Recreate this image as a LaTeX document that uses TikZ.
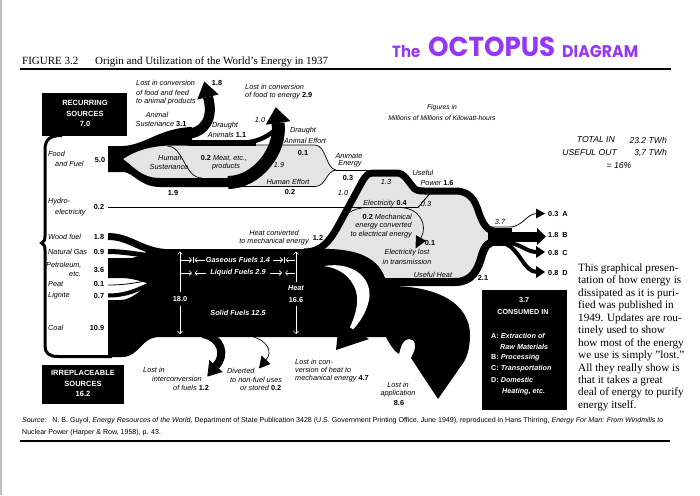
\documentclass[tikz,border=0pt]{standalone}
\usepackage{fontspec}
\usepackage{graphicx}
\setmainfont{Liberation Serif}
\newfontfamily\lsans{Liberation Sans}
\newfontfamily\pop{Poppins}
\usetikzlibrary{arrows.meta}
\definecolor{octo}{RGB}{150,55,245}
\definecolor{lgrey}{RGB}{228,228,228}
\newcommand\numb[1]{{\upshape\bfseries #1}}
\begin{document}
\begin{tikzpicture}[x=1pt,y=-1pt,
 lb/.style={font=\lsans\itshape\fontsize{7.3}{8.8}\selectfont, inner sep=0pt},
 lbn/.style={font=\lsans\bfseries\fontsize{7.3}{8.8}\selectfont, inner sep=0pt},
 wl/.style={font=\lsans\bfseries\itshape\fontsize{7.3}{8.8}\selectfont, text=white, inner sep=0pt},
 wn/.style={font=\lsans\bfseries\fontsize{7.3}{8.8}\selectfont, text=white, inner sep=0pt},
 bx/.style={font=\lsans\bfseries\fontsize{7.5}{9}\selectfont, text=white, inner sep=0pt},
 cb/.style={font=\lsans\bfseries\fontsize{7.2}{9}\selectfont, text=white, inner sep=0pt, anchor=west},
 tot/.style={font=\lsans\itshape\fontsize{8.6}{10}\selectfont, inner sep=0pt},
 para/.style={font=\fontsize{11.2}{12}\selectfont, inner sep=0pt, anchor=base west},
 thinl/.style={line width=0.7pt},
 warr/.style={white, line width=0.6pt, -{Straight Barb[length=2.5pt,width=5pt]}},
]
\useasboundingbox (0,0) rectangle (700,495);
\fill[white] (0,0) rectangle (700,495);
\draw[black!25, line width=1.5pt] (1,0) -- (1,495);

% ---------- header ----------
\node[anchor=base west, inner sep=0, font=\fontsize{11}{13}\selectfont] (fig) at (22,64) {FIGURE 3.2};
\node[anchor=base west, inner sep=0, font=\fontsize{11}{13}\selectfont] (ttl) at (95,64) {Origin and Utilization of the World's Energy in 1937};
\draw[line width=1.2pt] (20,69) -- (671,69);
\node[anchor=base west, inner sep=0, text=octo] (the) at (392,57) {\resizebox{28pt}{12pt}{\pop\bfseries The}};
\node[anchor=base west, inner sep=0, text=octo] (oct) at (428,57) {\resizebox{127pt}{19.5pt}{\pop\bfseries OCTOPUS}};
\node[anchor=base west, inner sep=0, text=octo] (dia) at (562,57) {\resizebox{76pt}{12pt}{\pop\bfseries DIAGRAM}};

\node[lb, font=\lsans\itshape\fontsize{6.8}{8}\selectfont] (fg1) at (442,108) {Figures in};
\node[lb, font=\lsans\itshape\fontsize{6.8}{8}\selectfont] (fg2) at (442,118) {Millions of Millions of Kilowatt-hours};

\node[tot, anchor=east] (ti1) at (615,140) {TOTAL IN};
\node[tot, anchor=east] (ti2) at (667,140) {23.2 TWh};
\node[tot, anchor=east] (uo1) at (617,153) {USEFUL OUT};
\node[tot, anchor=east] (uo2) at (667,153) {3,7 TWh};
\node[tot] (pct) at (619,165.5) {= 16\%};

% ---------- grey regions ----------
\fill[lgrey] (122,159.5) .. controls (135,152) and (145,147) .. (165,146) -- (315,145) .. controls (326,145) and (326,169) .. (336,170) .. controls (326,171) and (326,186.5) .. (315,186.5) -- (250,186.5) -- (250,178) -- (160,178) .. controls (140,178) and (132,168) .. (122,161) -- cycle;
\fill[lgrey] (304,252) .. controls (322,252) and (330,240) .. (337,228) -- (362,182) .. controls (366,175) and (368,173) .. (374,173) -- (396,173) .. controls (401,173) and (403,175) .. (406,178) -- (413,187) .. controls (415,190) and (418,191) .. (424,191) -- (455,191) .. controls (470,191) and (475,200) .. (479,213) .. controls (483,224) and (487,231.5) .. (497,231.5) -- (497,241.5) .. controls (488,241.5) and (485,246) .. (482,255) .. controls (478,270) and (472,282) .. (455,282) -- (370,282) -- cycle;

% ---------- left frame and boxes ----------
\draw[line width=3pt] (62,135.5) .. controls (50,135.5) and (45,139) .. (45,150) -- (45,236) .. controls (45,240) and (44,242) .. (41.5,243) .. controls (44,244) and (45,246) .. (45,250) -- (45,346) .. controls (45,353) and (49,356.5) .. (58,356.5) -- (112,356.5);
\fill (42,93) rectangle (127,136);
\node[bx] (rs1) at (85,103) {RECURRING};
\node[bx] (rs2) at (85,113.5) {SOURCES};
\node[bx] (rs3) at (85,124) {7.0};
\fill (42,365) rectangle (124,404);
\node[bx] (ir1) at (83,373) {IRREPLACEABLE};
\node[bx] (ir2) at (83,383.5) {SOURCES};
\node[bx] (ir3) at (83,394) {16.2};

% ---------- food flows ----------
\fill (108,146) rectangle (123,172);
\fill (108,146) -- (123,146) .. controls (145,145) and (160,128) .. (192,127) -- (192,145.5) -- (170,145.5) .. controls (150,146) and (135,151) .. (123,159) -- (108,159) -- cycle;
\draw[line width=10pt] (186,134) .. controls (205,133) and (214,118) .. (208,97);
\fill (218.7,94.5) -- (204.3,81.5) -- (197.3,99.5) -- cycle;
\draw[line width=6pt] (188,142.5) -- (256,142.5);
\fill (108,159) -- (123,159) .. controls (135,168) and (142,178) .. (160,178) -- (245,178) -- (245,187) -- (160,187) .. controls (140,187) and (133,172) .. (123,172) -- (108,172) -- cycle;
\draw[line width=4.5pt] (244,142.5) .. controls (256,142) and (265,138) .. (274,131);
\draw[line width=13pt] (228,182.5) .. controls (257,182.5) and (282,150) .. (278,123);
\fill (290.4,121.2) -- (275.8,107.2) -- (265.6,124.8) -- cycle;
\draw[thinl] (250,145) -- (315,145) .. controls (326,145) and (326,169) .. (336,170);
\draw[thinl] (245,186.5) -- (315,186.5) .. controls (326,186.5) and (326,171) .. (336,170);
\draw[thinl] (336,170) -- (368,170);
\draw[thinl] (167,146) .. controls (184,146) and (184,178) .. (202,178);

% ---------- hydro / electricity ----------
\draw[line width=0.9pt] (108,207.5) -- (418,207.5) -- (432,191);

% ---------- fossil flows ----------
\draw[line width=7pt] (108,236.5) .. controls (130,236.5) and (140,250.5) .. (165,252.5);
\draw[line width=5pt] (108,251.5) .. controls (125,251.5) and (140,255) .. (160,257);
\fill (158,249) -- (318,249) .. controls (352,248) and (377,255) .. (385,278) -- (390,286) .. controls (440,286) and (470,305) .. (470,335) .. controls (470,350) and (466,360) .. (461,366) -- (438,399) -- (411,358) .. controls (418,346) and (415,339) .. (409,339) .. controls (403,339) and (401,346) .. (399,354) .. controls (395,352) and (390,345) .. (386,337) -- (160,337) .. controls (140,337) and (140,357) .. (122,357) -- (108,357) -- (108,300) -- (120,300) .. controls (132,300) and (140,290) .. (150,284) .. controls (140,281) and (132,278) .. (120,278) -- (108,278) -- (108,258) -- (130,258) .. controls (140,258) and (145,250) .. (158,249) -- cycle;
\draw[line width=0.8pt] (108,285) .. controls (125,285) and (135,283) .. (150,280);
\draw[line width=4pt] (108,295.5) .. controls (126,295.5) and (138,290) .. (152,283);
% heat converted band + useful power
\draw[line width=7pt] (304,252) .. controls (322,252) and (330,240) .. (337,228) -- (362,182) .. controls (366,175) and (368,173) .. (374,173) -- (396,173) .. controls (401,173) and (403,175) .. (406,178) -- (413,187) .. controls (415,190) and (418,191) .. (424,191) -- (455,191) .. controls (470,191) and (475,200) .. (479,213) .. controls (483,224) and (487,231.5) .. (497,231.5);
% useful heat
\draw[line width=8pt] (372,282) -- (455,282) .. controls (472,282) and (478,270) .. (482,255) .. controls (485,246) and (488,241.5) .. (497,241.5);
\fill (488,227.5) rectangle (512,245.5);
% crescent of 4.7 loop
\fill[white] (324,266) .. controls (355,261) and (373,280) .. (369,300) .. controls (366,315) and (356,328) .. (345,337) .. controls (353,322) and (360,306) .. (356,291) .. controls (351,276) and (339,268) .. (324,266) -- cycle;
\fill (339,321) -- (336,350) -- (369,339) -- cycle;
% interconversion 1.2
\draw[line width=8pt] (203,334) .. controls (222,338) and (226,355) .. (216,366);
\fill (222.7,372) -- (207.3,376.6) -- (209.3,360) -- cycle;
% diverted 0.2
\draw[thinl] (250,336) .. controls (268,340) and (273,352) .. (266,360);
\fill (270.5,364) -- (259,368.5) -- (261.5,355.5) -- cycle;
% mechanical -> electrical and transmission loss
\draw[thinl] (336,231) .. controls (342,215) and (352,207.5) .. (368,207.5);
\draw[thinl] (400,207.5) .. controls (420,208) and (428,225) .. (421,238);
\fill (426,240.8) -- (415.5,248.5) -- (416,235.2) -- cycle;

% ---------- outputs A-D ----------
\draw[line width=0.8pt] (486,227) -- (510,227) .. controls (522,227) and (527,213.5) .. (537,213.5);
\fill (536,208.5) -- (545,213.5) -- (536,218.5) -- cycle;
\draw[line width=10pt] (505,236.5) -- (538,236.5);
\fill (537,228) -- (546,236.5) -- (537,245) -- cycle;
\draw[line width=4pt] (508,243) .. controls (522,244) and (526,252) .. (537,252);
\fill (536,246) -- (545,252) -- (536,258) -- cycle;
\draw[line width=4pt] (506,244) .. controls (520,250) and (524,272) .. (537,272);
\fill (536,266) -- (545,272) -- (536,278) -- cycle;
\node[lbn, anchor=west] (oa) at (548,213.5) {0.3\ \ A};
\node[lbn, anchor=west] (ob) at (548,234.5) {1.8\ \ B};
\node[lbn, anchor=west] (oc) at (548,252.5) {0.8\ \ C};
\node[lbn, anchor=west] (od) at (548,272.5) {0.8\ \ D};

% ---------- white arrows in fossil body ----------
\draw[warr] (180,292) -- (180,251.5);
\draw[warr] (180,305.5) -- (180,334);
\draw[warr] (296,282) -- (296,251.5);
\draw[warr] (296,306) -- (296,334);
\draw[warr] (181,260) -- (192,260);
\draw[warr] (205,260) -- (194.5,260);
\draw[white, line width=0.6pt] (193.2,257) -- (193.2,263);
\draw[warr] (273,260) -- (283,260);
\draw[warr] (295,260) -- (285.5,260);
\draw[white, line width=0.6pt] (284.2,257) -- (284.2,263);
\draw[warr] (181,273) -- (192,273);
\draw[warr] (206,273) -- (194.5,273);
\draw[warr] (270,273) -- (282,273);
\draw[warr] (295,273) -- (285,273);
\node[wl] (gas) at (238,260) {Gaseous Fuels 1.4};
\node[wl] (liq) at (238,273) {Liquid Fuels 2.9};
\node[wn] (e18) at (180,299) {18.0};
\node[wl] (heat) at (296,288.5) {Heat};
\node[wn] (h166) at (296,299.5) {16.6};
\node[wl] (sol) at (238,313) {Solid Fuels 12.5};

% ---------- left labels ----------
\node[lb, anchor=west] (fo1) at (48,154) {Food};
\node[lb, anchor=west] (fo2) at (55,164) {and Fuel};
\node[lbn] (fo3) at (100,160) {5.0};
\node[lb, anchor=west] (hy1) at (48,201.5) {Hydro-};
\node[lb, anchor=west] (hy2) at (55,212.5) {electricity};
\node[lbn] (hy3) at (99,207) {0.2};
\node[lb, anchor=west] (wf1) at (48,237) {Wood fuel};
\node[lbn] (wf2) at (99,237) {1.8};
\node[lb, anchor=west] (ng1) at (48,252) {Natural Gas};
\node[lbn] (ng2) at (99,252) {0.9};
\node[lb, anchor=west] (pe1) at (46,265.5) {Petroleum,};
\node[lb, anchor=west] (pe2) at (69,274.5) {etc.};
\node[lbn] (pe3) at (99,270) {3.6};
\node[lb, anchor=west] (pt1) at (48,284) {Peat};
\node[lbn] (pt2) at (99,284) {0.1};
\node[lb, anchor=west] (lg1) at (48,296) {Lignite};
\node[lbn] (lg2) at (99,296) {0.7};
\node[lb, anchor=west] (co1) at (48,328) {Coal};
\node[lbn] (co2) at (97,328) {10.9};

% ---------- food labels ----------
\node[lb, anchor=west] (lc1) at (136,83) {Lost in conversion};
\node[lb, anchor=west] (lc2) at (136,92.5) {of food and feed};
\node[lb, anchor=west] (lc3) at (136,102) {to animal products};
\node[lbn] (lc4) at (217,83) {1.8};
\node[lb, anchor=west] (le1) at (245,87) {Lost in conversion};
\node[lb, anchor=west] (le2) at (245,96) {of food to energy \numb{2.9}};
\node[lb] (as1) at (157,115) {Animal};
\node[lb] (as2) at (161,124) {Sustenance \numb{3.1}};
\node[lb] (t10a) at (260,120) {1.0};
\node[lb] (da1) at (225,126) {Draught};
\node[lb] (da2) at (227,134.5) {Animals \numb{1.1}};
\node[lb] (de1) at (303,131) {Draught};
\node[lb] (de2) at (305,140.5) {Animal Effort};
\node[lbn] (de3) at (303,153) {0.1};
\node[lb] (hs1) at (170,158) {Human};
\node[lb] (hs2) at (169,166.5) {Sustenance};
\node[lb] (mt1) at (224,158) {\numb{0.2} Meat, etc.,};
\node[lb] (mt2) at (226,166.5) {products};
\node[lb] (t19a) at (279,165) {1.9};
\node[lb] (he1) at (288,181.5) {Human Effort};
\node[lbn] (he2) at (290,192) {0.2};
\node[lbn] (t19b) at (173,193) {1.9};
\node[lb] (an1) at (349,156) {Animate};
\node[lb] (an2) at (350,164) {Energy};
\node[lbn] (an3) at (348,177.5) {0.3};
\node[lb] (t10b) at (343,193) {1.0};
\node[lb] (t13) at (386,181.5) {1.3};
\node[lb] (up1) at (423,172.5) {Useful};
\node[lb] (up2) at (437,183) {Power \numb{1.6}};
\node[lb] (el1) at (385,203.5) {Electricity \numb{0.4}};
\node[lb] (el2) at (426,204) {0.3};
\node[lb, anchor=east] (me1) at (412,217) {\numb{0.2} Mechanical};
\node[lb, anchor=east] (me2) at (412,226) {energy converted};
\node[lb, anchor=east] (me3) at (412,235) {to electrical energy};
\node[lbn] (tl1) at (430,243) {0.1};
\node[lb] (tl2) at (407,253) {Electricity lost};
\node[lb] (tl3) at (407,262) {in transmission};
\node[lb] (uh1) at (433,275) {Useful Heat};
\node[lbn] (uh2) at (483,278) {2.1};
\node[lb] (c37) at (500,222) {3.7};
\node[lb] (hc1) at (274,233) {Heat converted};
\node[lb] (hc2) at (274,242) {to mechanical energy};
\node[lbn] (hc3) at (318,238) {1.2};

% ---------- bottom labels ----------
\node[lb, anchor=west] (lf1) at (143,370) {Lost in};
\node[lb, anchor=west] (lf2) at (152,379) {interconversion};
\node[lb, anchor=west] (lf3) at (173,387.5) {of fuels \numb{1.2}};
\node[lb, anchor=west] (dv1) at (227,371) {Diverted};
\node[lb, anchor=west] (dv2) at (230,379.5) {to non-fuel uses};
\node[lb, anchor=west] (dv3) at (240,388) {or stored \numb{0.2}};
\node[lb, anchor=west] (lh1) at (295,361.5) {Lost in con-};
\node[lb, anchor=west] (lh2) at (295,370) {version of heat to};
\node[lb, anchor=west] (lh3) at (295,378.5) {mechanical energy \numb{4.7}};
\node[lb] (la1) at (398,384.5) {Lost in};
\node[lb] (la2) at (398,393.5) {application};
\node[lbn] (la3) at (399,403) {8.6};

% ---------- consumed box ----------
\fill (482,290) rectangle (567,410);
\node[bx, font=\lsans\bfseries\fontsize{7.2}{9}\selectfont] (cs1) at (524,300.5) {3.7};
\node[bx, font=\lsans\bfseries\fontsize{7.2}{9}\selectfont] (cs2) at (523,312.5) {CONSUMED IN};
\node[cb] (ca1) at (491,335.5) {A: \textit{Extraction of}};
\node[cb] (ca2) at (500,346.5) {\textit{Raw Materials}};
\node[cb] (cb1) at (491,357.5) {B: \textit{Processing}};
\node[cb] (cc1) at (491,369) {C: \textit{Transportation}};
\node[cb] (cd1) at (491,380) {D: \textit{Domestic}};
\node[cb] (cd2) at (502,391.5) {\textit{Heating, etc.}};

% ---------- right paragraph ----------
\foreach \t [count=\i] in {{This graphical presen-},{tation of how energy is},{dissipated as it is puri-},{fied was published in},{1949. Updates are rou-},{tinely used to show},{how most of the energy},{we use is simply "lost."},{All they really show is},{that it takes a great},{deal of energy to purify},{energy itself.}}
  \node[para] (p\i) at (578,{259+12.45*\i}) {\t};

% ---------- source ----------
\node[anchor=north west, inner sep=0] (src) at (22,414) {\resizebox{641pt}{!}{\lsans\fontsize{7}{12}\selectfont\begin{tabular}{@{}l@{}}\textit{Source:}\ \ \ N.~B. Guyol, \textit{Energy Resources of the World}, Department of State Publication 3428 (U.S. Government Printing Office, June 1949), reproduced in Hans Thirring, \textit{Energy For Man: From Windmills to}\\ Nuclear Power (Harper \& Row, 1958), p. 43.\end{tabular}}};
\draw[line width=1.5pt] (20,441) -- (670,441);
\end{tikzpicture}
\end{document}
